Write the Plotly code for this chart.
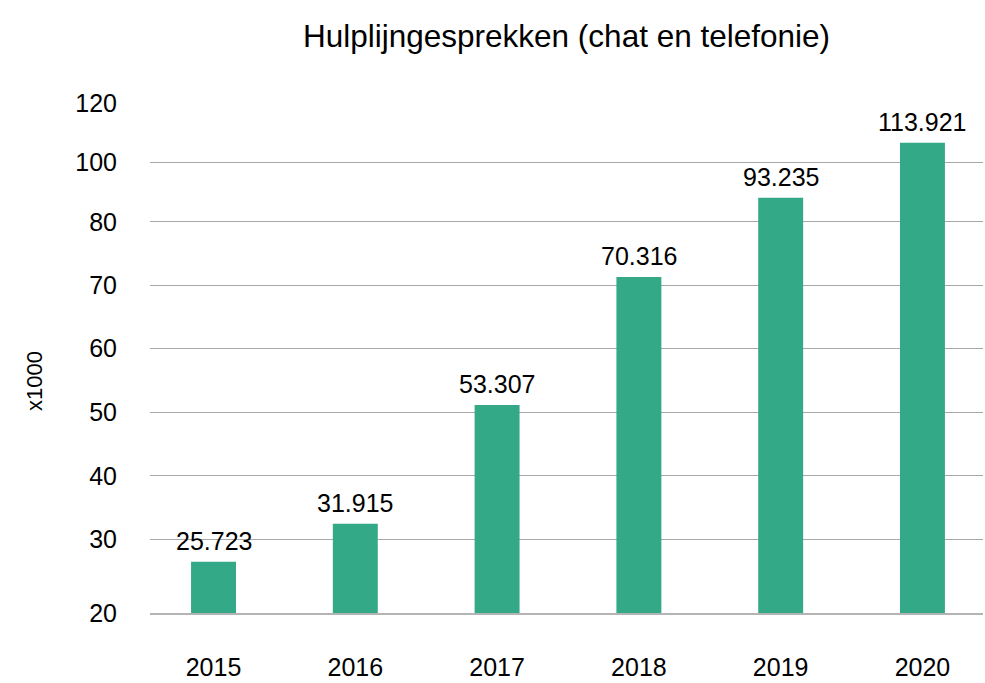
import plotly.graph_objects as go

# ---- data ----
years = ["2015", "2016", "2017", "2018", "2019", "2020"]
conversations = [25723, 31915, 53307, 70316, 93235, 113921]   # printed values
# The reference draws its bars on an irregular hand-made gauge;
bar_gauge = [30.06, 37.5, 60.8, 85.9, 101.4, 112.2]
tick_labels = ["20", "30", "40", "50", "60", "70", "80", "100", "120"]
gauge_ticks = [20, 34.4, 46.9, 59.3, 71.9, 84.3, 96.7, 108.3, 120]

FONT = "Liberation Sans, Arial, Helvetica, sans-serif"
BAR_COLOR = "#34a987"


def fmt(v):
    return f"{v:,}".replace(",", ".")


fig = go.Figure()
fig.add_trace(go.Bar(
    x=years,
    y=[b - 20 for b in bar_gauge],
    base=20,
    width=0.317,
    marker=dict(color=BAR_COLOR, line=dict(width=0)),
    hoverinfo="skip",
))

# value labels (category index used for x on the category axis)
for i, (h, v) in enumerate(zip(bar_gauge, conversations)):
    fig.add_annotation(
        x=i, y=h, xref="x", yref="y",
        text=fmt(v), showarrow=False,
        xanchor="center", yanchor="bottom", yshift=5,
        font=dict(family=FONT, size=25, color="#000000"),
    )

fig.add_annotation(
    x=-0.138, y=0.455, xref="paper", yref="paper",
    text="x1000", textangle=-90, showarrow=False,
    xanchor="center", yanchor="middle",
    font=dict(family=FONT, size=22, color="#000000"),
)

fig.update_layout(
    width=985, height=683,
    margin=dict(l=150, r=2, t=103, b=70, autoexpand=False),
    paper_bgcolor="white", plot_bgcolor="white",
    showlegend=False,
    font=dict(family=FONT, color="#000000"),
    title=dict(
        text="Hulplijngesprekken (chat en telefonie)",
        x=0.5, xref="paper", xanchor="center",
        y=1 - 36 / 683, yref="container", yanchor="middle",
        font=dict(family=FONT, size=31.5, color="#000000"),
    ),
    xaxis=dict(
        type="category",
        range=[-0.448, 5.427],
        showgrid=False, zeroline=False,
        showline=True, linecolor="#b4b4b4", linewidth=2,
        ticks="", ticklabelstandoff=31,
        tickfont=dict(family=FONT, size=25, color="#000000"),
    ),
    yaxis=dict(
        range=[20, 120],
        tickmode="array", tickvals=gauge_ticks, ticktext=tick_labels,
        showgrid=True, gridcolor="#a8a8a8", gridwidth=1,
        zeroline=False, showline=False,
        ticks="", ticklabelstandoff=32,
        tickfont=dict(family=FONT, size=25, color="#000000"),
    ),
)

fig.write_html(
    "out.html",
    config={"displayModeBar": False},
    post_script="document.body.style.margin='0';document.body.style.overflow='hidden';",
)
